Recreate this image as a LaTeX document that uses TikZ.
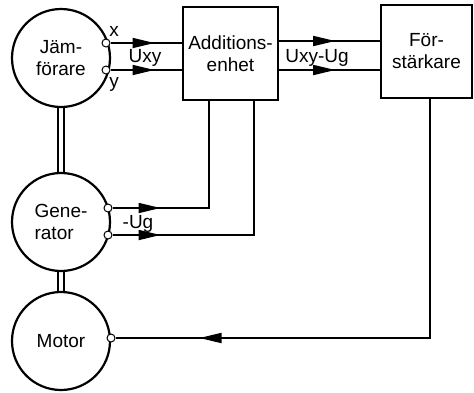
\documentclass[tikz,border=0pt]{standalone}
\usepackage{fontspec}
\setmainfont{Liberation Sans}
\usetikzlibrary{arrows.meta,decorations.markings,calc}
\begin{document}
\begin{tikzpicture}[x=1pt,y=-1pt,
  txt/.style={font=\fontsize{19}{22}\selectfont},
  mach/.style={circle,draw,line width=2.2pt,minimum size=98pt,inner sep=0pt,align=center,txt},
  box/.style={draw,line width=2.4pt,inner sep=0pt,align=center,txt},
  term/.style={circle,draw,fill=white,line width=1pt,minimum size=8pt,inner sep=0pt},
  wire/.style={line width=1.7pt},
  arr/.style={postaction={decorate},decoration={markings,mark=at position #1 with {\arrow{Triangle[length=22pt,width=10pt]}}}},
  lbl/.style={inner sep=0pt,txt}
]
\useasboundingbox (0,0) rectangle (474,392);
\node[mach] (jam) at (61,58) {Jäm-\\förare};
\node[mach,align=left] (gen) at (61,222) {Gene-\\rator};
\node[mach] (mot) at (61,341) {Motor};
\node[box,minimum width=95pt,minimum height=93pt] (add) at (230.5,53.5) {Additions-\\enhet};
\node[box,minimum width=91pt,minimum height=93pt] (for) at (426.5,51.5) {För-\\stärkare};
% shafts
\draw[wire] ([xshift=-3pt]jam.south) -- ([xshift=-3pt]gen.north);
\draw[wire] ([xshift=3pt]jam.south) -- ([xshift=3pt]gen.north);
\draw[wire] ([xshift=-3pt]gen.south) -- ([xshift=-3pt]mot.north);
\draw[wire] ([xshift=3pt]gen.south) -- ([xshift=3pt]mot.north);
% terminals
\node[term] (jx) at (106,43) {};
\node[term] (jy) at (106,70) {};
\node[term] (g1) at (108,208) {};
\node[term] (g2) at (108,235) {};
\node[term] (m1) at (111,338) {};
% wires
\draw[wire,arr=44pt] (jx) -- (jx -| add.west);
\draw[wire,arr=44pt] (jy) -- (jy -| add.west);
\draw[wire,arr=56pt] (add.east |- 0,41) -- (for.west |- 0,41);
\draw[wire,arr=56pt] (add.east |- 0,70) -- (for.west |- 0,70);
\draw[wire,arr=48pt] (g1) -| ([xshift=27pt]add.south west);
\draw[wire,arr=48pt] (g2) -| ([xshift=72pt]add.south west);
\draw[wire,arr=-84pt] ([xshift=3.5pt]for.south) |- (m1);
% labels
\node[lbl] (lx) at (114,31) {x};
\node[lbl] (ly) at (114,84) {y};
\node[lbl] (luxy) at (145,58) {Uxy};
\node[lbl] (luxyug) at (317,58) {Uxy-Ug};
\node[lbl] (lug) at (138,224) {-Ug};
\end{tikzpicture}
\end{document}
